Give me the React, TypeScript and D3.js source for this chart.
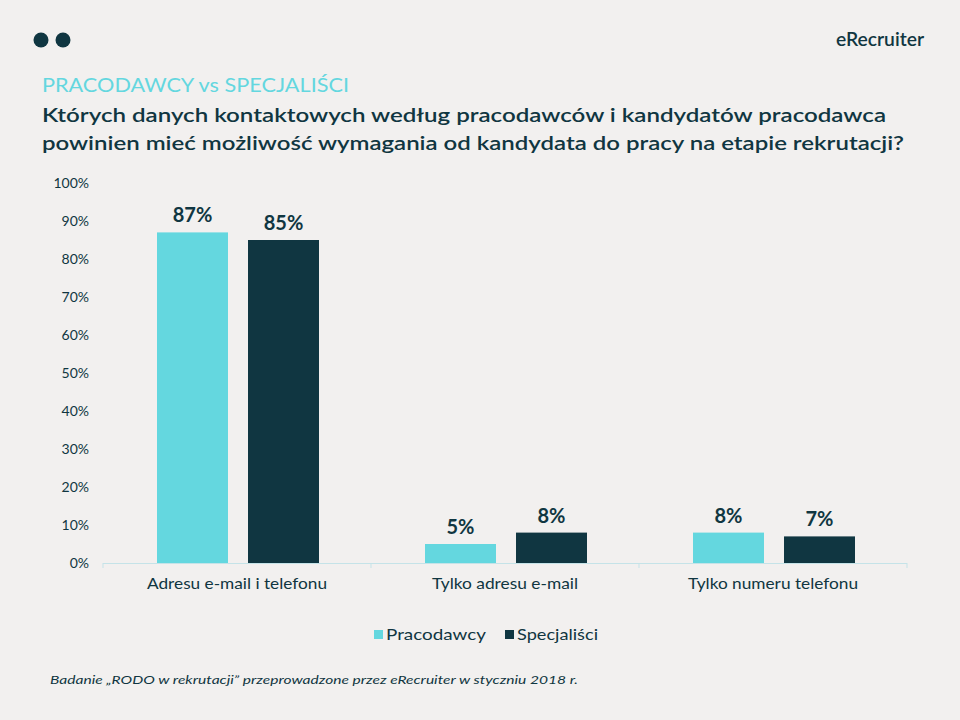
import React from "react";
import * as d3 from "d3";

const categories = ["Adresu e-mail i telefonu", "Tylko adresu e-mail", "Tylko numeru telefonu"];
const seriesNames = ["Pracodawcy", "Specjaliści"];
const pracodawcy = [87, 5, 8];
const specjalisci = [85, 8, 7];
const yTicks = [0, 10, 20, 30, 40, 50, 60, 70, 80, 90, 100];
const colors = ["#64d7df", "#103641"];

// layout-only: rendered text widths in the reference
const catLabelWidths = [180, 146, 170];
const legendWidths = [100, 81];

const FONT = "'Lato', 'DejaVu Sans', sans-serif";

export default function App() {
  const W = 960, H = 720;
  const left = 103, right = 907, top = 183, bottom = 563;
  const x = d3.scaleBand<string>().domain(categories).range([left, right]);
  const y = d3.scaleLinear().domain([0, 100]).range([bottom, top]);
  const inner = d3.scaleBand<string>().domain(seriesNames).range([54, 216]).paddingInner(0.22);
  const series = [pracodawcy, specjalisci];
  const dark = "#103641";
  return (
    <svg width={W} height={H} style={{ position: "absolute", left: 0, top: 0, background: "#f2f0ef" }}>
      <rect x={0} y={0} width={W} height={H} fill="#f2f0ef" />
      <circle cx={41} cy={40} r={7.5} fill={dark} />
      <circle cx={63} cy={40} r={7.5} fill={dark} />
      <text x={924} y={46} textAnchor="end" fontFamily={FONT} fontSize={19} fontWeight={600} fill={dark} textLength={88} lengthAdjust="spacingAndGlyphs">eRecruiter</text>
      <text x={42} y={92} fontFamily={FONT} fontSize={20} fill="#64d7df" textLength={307} lengthAdjust="spacingAndGlyphs">PRACODAWCY vs SPECJALIŚCI</text>
      <text x={42} y={122} fontFamily={FONT} fontSize={20} fontWeight={600} fill={dark} textLength={844} lengthAdjust="spacingAndGlyphs">Których danych kontaktowych  według pracodawców i kandydatów pracodawca</text>
      <text x={42} y={150} fontFamily={FONT} fontSize={20} fontWeight={600} fill={dark} textLength={862} lengthAdjust="spacingAndGlyphs">powinien mieć możliwość wymagania od kandydata do pracy na etapie rekrutacji?</text>
      {yTicks.map((t) => (
        <text key={t} x={89} y={y(t) + 5} textAnchor="end" fontFamily={FONT} fontSize={14} fill={dark}>{t}%</text>
      ))}
      <line x1={left} x2={right} y1={bottom + 0.5} y2={bottom + 0.5} stroke="#c5e3e8" strokeWidth={1} />
      {[left, ...categories.map((c) => (x(c) as number) + x.bandwidth())].map((px, i) => (
        <line key={i} x1={px} x2={px} y1={bottom} y2={bottom + 5} stroke="#c5e3e8" strokeWidth={1} />
      ))}
      {categories.map((c, ci) => (
        <g key={c}>
          {series.map((s, si) => {
            const bx = (x(c) as number) + (inner(seriesNames[si]) as number);
            const bw = inner.bandwidth();
            return (
              <g key={si}>
                <rect x={bx} y={y(s[ci])} width={bw} height={bottom - y(s[ci])} fill={colors[si]} />
                <text x={bx + bw / 2} y={y(s[ci]) - 10} textAnchor="middle" fontFamily={FONT} fontSize={20} fontWeight={700} fill={dark}>{s[ci]}%</text>
              </g>
            );
          })}
          <text x={(x(c) as number) + x.bandwidth() / 2} y={589} textAnchor="middle" fontFamily={FONT} fontSize={15} fill={dark} textLength={catLabelWidths[ci]} lengthAdjust="spacingAndGlyphs">{c}</text>
        </g>
      ))}
      {seriesNames.map((n, i) => {
        const lx = [374, 505][i];
        return (
          <g key={n}>
            <rect x={lx} y={630} width={9} height={9} fill={colors[i]} />
            <text x={lx + 12} y={640} fontFamily={FONT} fontSize={15} fill={dark} textLength={legendWidths[i]} lengthAdjust="spacingAndGlyphs">{n}</text>
          </g>
        );
      })}
      <text x={50} y={684} fontFamily={FONT} fontSize={12} fontStyle="italic" fill={dark} textLength={528} lengthAdjust="spacingAndGlyphs">Badanie „RODO w rekrutacji” przeprowadzone przez eRecruiter  w styczniu 2018 r.</text>
    </svg>
  );
}
